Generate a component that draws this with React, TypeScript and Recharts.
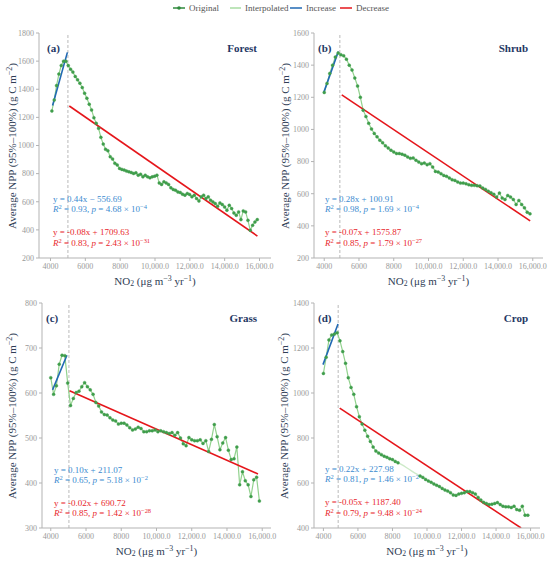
import React from "react";
import { ComposedChart, Line, XAxis, YAxis, ReferenceLine } from "recharts";

// NO2 bins (forest is sampled finer than the other three)
const forestNo2 = [
  4080, 4214, 4348, 4482, 4616, 4750, 4884, 5018, 5152, 5286, 5420, 5554, 5688, 5822, 5956, 6090,
  6224, 6358, 6492, 6626, 6760, 6894, 7028, 7162, 7296, 7430, 7564, 7698, 7832, 7966, 8100, 8234,
  8368, 8502, 8636, 8770, 8904, 9038, 9172, 9306, 9440, 9574, 9708, 9842, 9976, 10110, 10244,
  10378, 10512, 10646, 10780, 10914, 11048, 11182, 11316, 11450, 11584, 11718, 11852, 11986,
  12120, 12254, 12388, 12522, 12656, 12790, 12924, 13058, 13192, 13326, 13460, 13594, 13728,
  13862, 13996, 14130, 14264, 14398, 14532, 14666, 14800, 14934, 15068, 15202, 15336, 15470,
  15604, 15738, 15872,
];
const forestNpp = [
  1246, 1324, 1426, 1508, 1569, 1600, 1600, 1569, 1543, 1522, 1491, 1467, 1443, 1412, 1372, 1336,
  1294, 1253, 1198, 1158, 1122, 1058, 1010, 973, 963, 920, 904, 873, 862, 837, 830, 825, 818, 813,
  808, 801, 806, 789, 796, 777, 789, 777, 770, 777, 782, 789, 734, 723, 742, 734, 723, 699, 687,
  682, 670, 666, 654, 647, 659, 652, 635, 647, 623, 606, 635, 647, 623, 635, 611, 599, 587, 568,
  592, 580, 563, 540, 575, 552, 520, 504, 528, 473, 535, 528, 468, 397, 433, 456, 473,
];

const no2Bins = [
  4000, 4160, 4320, 4480, 4640, 4800, 4960, 5120, 5280, 5440, 5600, 5760, 5920, 6080, 6240, 6400,
  6560, 6720, 6880, 7040, 7200, 7360, 7520, 7680, 7840, 8000, 8160, 8320, 8480, 8640, 8800, 8960,
  9120, 9280, 9440, 9600, 9760, 9920, 10080, 10240, 10400, 10560, 10720, 10880, 11040, 11200,
  11360, 11520, 11680, 11840, 12000, 12160, 12320, 12480, 12640, 12800, 12960, 13120, 13280,
  13440, 13600, 13760, 13920, 14080, 14240, 14400, 14560, 14720, 14880, 15040, 15200, 15360,
  15520, 15680, 15840,
];
const shrubNpp = [
  1230, 1286, 1348, 1400, 1450, 1475, 1465, 1458, 1437, 1400, 1370, 1320, 1270, 1200, 1120, 1080,
  1038, 1003, 975, 954, 933, 917, 898, 885, 871, 860, 850, 850, 846, 840, 829, 820, 823, 808, 797,
  787, 791, 781, 787, 766, 739, 735, 725, 714, 708, 698, 687, 683, 673, 666, 666, 662, 656, 652,
  652, 650, 648, 635, 627, 616, 606, 596, 579, 604, 573, 564, 589, 579, 564, 533, 558, 533, 512,
  485, 475,
];
const grassNpp = [
  634, 597, 616, 664, 684, 683, 622, 572, 588, 601, 604, 614, 623, 614, 607, 597, 579, 571, 558,
  552, 551, 545, 540, 538, 531, 533, 533, 529, 523, 518, 520, 524, 521, 514, 514, 516, 516, 518,
  514, 516, 514, 512, 510, 512, 506, 512, 500, 487, 483, 501, 496, 494, 494, 496, 488, 494, 470,
  497, 530, 503, 474, 489, 501, 473, 452, 454, 480, 396, 425, 405, 396, 370, 407, 413, 360,
];
const cropNpp = [
  1087, 1159, 1236, 1258, 1262, 1268, 1232, 1184, 1132, 1068, 1025, 994, 939, 895, 862, 835, 808,
  785, 760, 742, 733, 726, 719, 714, 708, 704, 696, 690, 684, 677, 669, 661, 653, 645, 638, 631,
  625, 616, 609, 603, 596, 590, 584, 576, 569, 564, 557, 547, 545, 551, 554, 557, 562, 562, 557,
  551, 536, 524, 514, 509, 504, 506, 509, 513, 504, 497, 494, 494, 491, 497, 482, 479, 497, 457,
  457,
];
// crop bins 28..34 have no original value, only the interpolated one
const cropInterpolated = [28, 34];

// fitted segments, end points
const forestIncrease = [{ x: 4120, y: 1285 }, { x: 4970, y: 1662 }];
const forestDecrease = [{ x: 5080, y: 1281 }, { x: 15880, y: 356 }];
const shrubIncrease = [{ x: 3970, y: 1229 }, { x: 4812, y: 1485 }];
const shrubDecrease = [{ x: 5008, y: 1215 }, { x: 15850, y: 431 }];
const grassIncrease = [{ x: 4102, y: 607 }, { x: 4917, y: 684 }];
const grassDecrease = [{ x: 5064, y: 605 }, { x: 15760, y: 420 }];
const cropIncrease = [{ x: 3977, y: 1126 }, { x: 4846, y: 1307 }];
const cropDecrease = [{ x: 4944, y: 933 }, { x: 15450, y: 400 }];

const xTicks = [4000, 6000, 8000, 10000, 12000, 14000, 16000];

const serif = "'Liberation Serif', 'Times New Roman', serif";
const navy = "#1f3864";
const labelColor = "#2f3d55";
const blueText = "#3b8bd0";
const redText = "#e8262b";

// extra room on the right so the last tick label is not cut off
const EXTRA = 16;

const fmtX = (v: number) =>
  v < 10000 ? String(v) : v.toLocaleString("en-US", { minimumFractionDigits: 1 });

const Sup = ({ children }: { children: React.ReactNode }) => (
  <span style={{ fontSize: "0.72em", verticalAlign: "0.45em", lineHeight: 0 }}>{children}</span>
);

function Txt({
  x,
  y,
  right,
  style,
  children,
}: {
  x: number;
  y: number;
  right?: boolean;
  style?: React.CSSProperties;
  children: React.ReactNode;
}) {
  return (
    <div
      style={{
        position: "absolute",
        left: x,
        top: y,
        transform: right ? "translate(-100%, -50%)" : "translate(0, -50%)",
        whiteSpace: "nowrap",
        lineHeight: 1,
        fontFamily: serif,
        ...style,
      }}
    >
      {children}
    </div>
  );
}

interface PanelProps {
  left: number;
  top: number;
  margin: { top: number; right: number; bottom: number; left: number };
  xDomain: [number, number];
  yDomain: [number, number];
  yTicks: number[];
  no2: number[];
  npp: number[];
  gap?: number[];
  split: number;
  increase: { x: number; y: number }[];
  decrease: { x: number; y: number }[];
  tag: string;
  name: string;
  incEq: string;
  incR2: string;
  incP: string;
  incExp: string;
  decEq: string;
  decR2: string;
  decP: string;
  decExp: string;
  text: { tagX: number; nameX: number; titleY: number; eqX: number; eqY: number[]; yLabX: number; xLabY: number };
}

function Panel(p: PanelProps) {
  const inGap = (i: number) => !!p.gap && i >= p.gap[0] && i <= p.gap[1];
  const original = p.no2.map((x, i) => ({ x, y: inGap(i) ? null : p.npp[i] }));
  const interpolated = p.gap
    ? p.no2.map((x, i) => ({ x, y: i >= p.gap![0] - 1 && i <= p.gap![1] + 1 ? p.npp[i] : null }))
    : null;
  const plotLeft = p.margin.left + 30;
  const plotRight = 275 - p.margin.right;
  const plotTop = p.margin.top;
  const plotBottom = 281 - p.margin.bottom - 20;
  const t = p.text;
  const eqStyle = { fontSize: 9 };

  return (
    <div style={{ position: "absolute", left: p.left, top: p.top, width: 275, height: 281 }}>
      <ComposedChart
        width={275 + EXTRA}
        height={281}
        margin={{ ...p.margin, right: p.margin.right + EXTRA }}
      >
        <XAxis
          type="number"
          dataKey="x"
          domain={p.xDomain}
          ticks={xTicks}
          interval={0}
          allowDataOverflow
          tickFormatter={fmtX}
          height={20}
          tickSize={3}
          stroke="#b3b3b3"
          tick={{ fontSize: 8, fill: "#999", fontFamily: serif }}
        />
        <YAxis
          type="number"
          domain={p.yDomain}
          ticks={p.yTicks}
          interval={0}
          allowDataOverflow
          width={30}
          tickSize={3}
          stroke="#b3b3b3"
          tick={{ fontSize: 8, fill: "#999", fontFamily: serif }}
        />
        <ReferenceLine x={p.split} stroke="#a8a8a8" strokeDasharray="3 2" strokeWidth={0.8} />
        {interpolated && (
          <Line
            data={interpolated}
            dataKey="y"
            stroke="#cdeac8"
            strokeWidth={1.4}
            dot={false}
            isAnimationActive={false}
          />
        )}
        <Line
          data={original}
          dataKey="y"
          stroke="#92d28e"
          strokeWidth={1.2}
          dot={{ r: 1.5, fill: "#3f9d4b", stroke: "#3f9d4b", strokeWidth: 0.4 }}
          isAnimationActive={false}
        />
        <Line
          data={p.increase}
          dataKey="y"
          stroke="#2169b3"
          strokeWidth={1.6}
          dot={false}
          isAnimationActive={false}
        />
        <Line
          data={p.decrease}
          dataKey="y"
          stroke="#e5161b"
          strokeWidth={1.6}
          dot={false}
          isAnimationActive={false}
        />
      </ComposedChart>

      <Txt x={t.tagX} y={t.titleY} style={{ fontSize: 11, fontWeight: "bold", color: navy }}>
        {p.tag}
      </Txt>
      <Txt x={t.nameX} y={t.titleY} right style={{ fontSize: 11, fontWeight: "bold", color: navy }}>
        {p.name}
      </Txt>

      <Txt x={t.eqX} y={t.eqY[0]} style={{ ...eqStyle, color: blueText }}>
        {p.incEq}
      </Txt>
      <Txt x={t.eqX} y={t.eqY[1]} style={{ ...eqStyle, color: blueText }}>
        <i>R</i>
        <Sup>2</Sup> = {p.incR2}, <i>p</i> = {p.incP} × 10<Sup>−{p.incExp}</Sup>
      </Txt>
      <Txt x={t.eqX} y={t.eqY[2]} style={{ ...eqStyle, color: redText }}>
        {p.decEq}
      </Txt>
      <Txt x={t.eqX} y={t.eqY[3]} style={{ ...eqStyle, color: redText }}>
        <i>R</i>
        <Sup>2</Sup> = {p.decR2}, <i>p</i> = {p.decP} × 10<Sup>−{p.decExp}</Sup>
      </Txt>

      <div
        style={{
          position: "absolute",
          left: t.yLabX,
          top: (plotTop + plotBottom) / 2,
          transform: "translate(-50%, -50%) rotate(-90deg)",
          whiteSpace: "nowrap",
          lineHeight: 1,
          fontFamily: serif,
          fontSize: 11,
          color: labelColor,
        }}
      >
        Average NPP (95%–100%) (g C m<Sup>−2</Sup>)
      </div>
      <div
        style={{
          position: "absolute",
          left: (plotLeft + plotRight) / 2,
          top: t.xLabY,
          transform: "translate(-50%, -50%)",
          whiteSpace: "nowrap",
          lineHeight: 1,
          fontFamily: serif,
          fontSize: 11,
          color: labelColor,
        }}
      >
        NO<span style={{ fontSize: "0.7em", verticalAlign: "-0.15em", lineHeight: 0 }}>2</span> (μg m
        <Sup>−3</Sup> yr<Sup>−1</Sup>)
      </div>
    </div>
  );
}

const legendItems = [
  { label: "Original", color: "#2f8a3c", left: 173, w: 12, dot: true },
  { label: "Interpolated", color: "#a9dca3", left: 230, w: 11, dot: false },
  { label: "Increase", color: "#2169b3", left: 290, w: 12, dot: false },
  { label: "Decrease", color: "#e5161b", left: 340, w: 12, dot: false },
];

export default function App() {
  return (
    <div
      style={{
        position: "absolute",
        left: 0,
        top: 0,
        width: 550,
        height: 562,
        background: "#fff",
        overflow: "hidden",
      }}
    >
      {legendItems.map((it) => (
        <div
          key={it.label}
          style={{
            position: "absolute",
            left: it.left,
            top: 2,
            height: 12,
            display: "flex",
            alignItems: "center",
            fontFamily: serif,
            fontSize: 9,
            color: "#555",
            whiteSpace: "nowrap",
          }}
        >
          <svg width={it.w} height={8} style={{ marginRight: 4 }}>
            <line x1={0} y1={4} x2={it.w} y2={4} stroke={it.color} strokeWidth={1.5} />
            {it.dot && <circle cx={it.w / 2} cy={4} r={1.8} fill={it.color} />}
          </svg>
          {it.label}
        </div>
      ))}

      <Panel
        left={0}
        top={0}
        margin={{ top: 33, right: 4, bottom: 3, left: 9 }}
        xDomain={[3340, 16660]}
        yDomain={[200, 1800]}
        yTicks={[200, 400, 600, 800, 1000, 1200, 1400, 1600, 1800]}
        no2={forestNo2}
        npp={forestNpp}
        split={5000}
        increase={forestIncrease}
        decrease={forestDecrease}
        tag="(a)"
        name="Forest"
        incEq="y = 0.44x − 556.69"
        incR2="0.93"
        incP="4.68"
        incExp="4"
        decEq="y = -0.08x + 1709.63"
        decR2="0.83"
        decP="2.43"
        decExp="31"
        text={{ tagX: 47, nameX: 257, titleY: 48, eqX: 53, eqY: [199, 209, 232, 243], yLabX: 12, xLabY: 281 }}
      />
      <Panel
        left={275}
        top={0}
        margin={{ top: 33, right: 7, bottom: 3, left: 9 }}
        xDomain={[3412, 16588]}
        yDomain={[200, 1600]}
        yTicks={[200, 400, 600, 800, 1000, 1200, 1400, 1600]}
        no2={no2Bins}
        npp={shrubNpp}
        split={4900}
        increase={shrubIncrease}
        decrease={shrubDecrease}
        tag="(b)"
        name="Shrub"
        incEq="y = 0.28x + 100.91"
        incR2="0.98"
        incP="1.69"
        incExp="4"
        decEq="y = -0.07x + 1575.87"
        decR2="0.85"
        decP="1.79"
        decExp="27"
        text={{ tagX: 43, nameX: 253, titleY: 48, eqX: 50, eqY: [199, 209, 232, 243], yLabX: 10, xLabY: 281 }}
      />
      <Panel
        left={0}
        top={281}
        margin={{ top: 22, right: 4, bottom: 14, left: 12 }}
        xDomain={[3502, 16498]}
        yDomain={[300, 800]}
        yTicks={[300, 400, 500, 600, 700, 800]}
        no2={no2Bins}
        npp={grassNpp}
        split={5030}
        increase={grassIncrease}
        decrease={grassDecrease}
        tag="(c)"
        name="Grass"
        incEq="y = 0.10x + 211.07"
        incR2="0.65"
        incP="5.18"
        incExp="2"
        decEq="y = -0.02x + 690.72"
        decR2="0.85"
        decP="1.42"
        decExp="28"
        text={{ tagX: 46, nameX: 257, titleY: 37, eqX: 54, eqY: [189, 199, 222, 232], yLabX: 12, xLabY: 270 }}
      />
      <Panel
        left={275}
        top={281}
        margin={{ top: 22, right: 10, bottom: 14, left: 9 }}
        xDomain={[3455, 16545]}
        yDomain={[400, 1400]}
        yTicks={[400, 600, 800, 1000, 1200, 1400]}
        no2={no2Bins}
        npp={cropNpp}
        gap={cropInterpolated}
        split={4855}
        increase={cropIncrease}
        decrease={cropDecrease}
        tag="(d)"
        name="Crop"
        incEq="y = 0.22x + 227.98"
        incR2="0.81"
        incP="1.46"
        incExp="2"
        decEq="y = -0.05x + 1187.40"
        decR2="0.79"
        decP="9.48"
        decExp="24"
        text={{ tagX: 43, nameX: 253, titleY: 37, eqX: 50, eqY: [188, 198, 221, 232], yLabX: 9, xLabY: 270 }}
      />
    </div>
  );
}
